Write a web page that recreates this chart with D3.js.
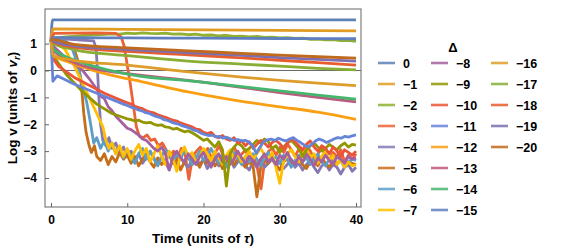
<!DOCTYPE html>
<html>
<head>
<meta charset="utf-8">
<script src="https://cdn.jsdelivr.net/npm/d3@7"></script>
<style>
  body { margin: 0; background: #fff; }
  svg { font-family: "Liberation Sans", Arial, sans-serif; font-weight: bold; }
</style>
</head>
<body>
<svg id="chart" width="572" height="251"></svg>
<script>
var w = 572, h = 251;

// legend entries (detuning values) and colours
var deltas = [0, -1, -2, -3, -4, -5, -6, -7, -8, -9, -10, -11, -12, -13, -14, -15, -16, -17, -18, -19, -20];
var colors = ["#5E81B5", "#E19C24", "#8FB032", "#EB6235", "#8778B3", "#C56E1A", "#5D9EC7", "#FFBF00",
  "#A5609D", "#929600", "#E95536", "#6685D9", "#F89F13", "#BC5B80", "#47B66D", "#5F7FBE",
  "#DE9C2A", "#89AE36", "#E85D2C", "#7D6FB0", "#BF6A1C"];

var xTicks = [0, 10, 20, 30, 40];
var yTicks = [1, 0, -1, -2, -3, -4];

// smooth series: [time, log v]
var d0 = [[0, 1.15], [0.2, 1.88], [10, 1.88], [20, 1.88], [30, 1.88], [40, 1.88]];
var d1 = [[0, 1.15], [0.3, 1.55], [10, 1.53], [20, 1.51], [30, 1.49], [40, 1.47]];
var d2 = [[0, 1.15], [0.3, 1.2], [2, 1.25], [4, 1.3], [6, 1.33], [8, 1.36], [9, 1.35], [10, 1.39], [11, 1.37],
  [12, 1.4], [13, 1.38], [14, 1.37], [15, 1.39], [16, 1.35], [17, 1.36], [18, 1.33], [19, 1.35], [20, 1.31],
  [21, 1.32], [22, 1.29], [23, 1.31], [24, 1.27], [25, 1.28], [26, 1.25], [27, 1.27], [28, 1.23], [29, 1.24],
  [30, 1.21], [31, 1.22], [32, 1.19], [33, 1.2], [34, 1.16], [35, 1.17], [36, 1.14], [37, 1.15], [38, 1.11],
  [39, 1.12], [40, 1.08]];
var d12 = [[0, 1.15], [0.3, 0.55], [2, 0.35], [5, 0.05], [8, -0.18], [12, -0.42], [18, -0.8], [25, -1.15], [30, -1.35], [35, -1.55], [40, -1.82]];
var d13 = [[0, 1.15], [0.3, 0.75], [3, 0.3], [6, 0.05], [10, -0.12], [18, -0.37], [25, -0.63], [30, -0.82], [35, -1.0], [40, -1.17]];
var d14 = [[0, 1.15], [0.3, 0.8], [3, 0.4], [6.5, 0.09], [10.8, -0.17], [19.5, -0.42], [25, -0.6], [30, -0.76], [35, -0.92], [40, -1.07]];
var d15 = [[0, 1.15], [0.3, 1.22], [10, 1.21], [20, 1.2], [30, 1.19], [40, 1.18]];
var d16 = [[0, 1.15], [0.3, 0.55], [3, 0.38], [10, 0.2], [18, -0.05], [25, -0.25], [30, -0.37], [35, -0.47], [40, -0.56]];
var d17 = [[0, 1.15], [0.3, 1.0], [3, 0.78], [10, 0.55], [18, 0.35], [25, 0.24], [30, 0.16], [35, 0.08], [40, 0.02]];
var d18 = [[0, 1.15], [0.3, 1.05], [3, 0.87], [10, 0.71], [18, 0.58], [25, 0.47], [30, 0.38], [35, 0.29], [40, 0.2]];
var d19 = [[0, 1.15], [0.3, 1.1], [3, 0.92], [10, 0.78], [18, 0.66], [25, 0.56], [30, 0.48], [35, 0.41], [40, 0.35]];
var d20 = [[0, 1.15], [0.3, 1.15], [3, 0.97], [10, 0.84], [18, 0.73], [25, 0.64], [30, 0.57], [35, 0.51], [40, 0.46]];

// noisy series: head as [time, log v], tail sampled evenly from the last head time onward to t = 40
var h3 = [[0, 1.15], [0.4, 1.38], [3, 1.39], [6, 1.4], [8.5, 1.38], [9.2, 1.25], [9.6, 0.9], [10, 0.2], [10.4, -0.5], [10.8, -1.3], [11.2, -2.1], [11.6, -2.45]];
var n3 = [-2.5, -2.4, -2.6, -2.55, -2.8, -2.7, -2.95, -3.2, -3.0, -3.35, -2.9, -3.1, -4.05, -3.2, -3.0, -2.85, -3.1, -2.9, -3.3, -3.05,
  -2.8, -3.15, -3.4, -3.0, -2.85, -3.25, -3.1, -2.95, -3.45, -3.2, -3.6, -4.4, -3.3, -3.0, -2.9, -3.15, -2.85, -3.05, -2.75, -2.95,
  -3.2, -2.9, -3.1, -2.8, -3.0, -3.3, -3.1, -2.9, -3.15, -3.35, -3.05, -3.2, -2.95, -3.4, -3.15, -3.3, -3.1];
var h4 = [[0, 1.15], [0.5, 1.2], [3, 1.15], [5.6, 1.1], [5.9, 0.85], [6.1, 0.0], [6.3, -1.1], [6.5, -2.0], [6.8, -2.6], [7.2, -2.8],
  [7.6, -2.5], [8, -2.9], [8.5, -2.7], [9, -3.1], [9.5, -2.85]];
var n4 = [-3.2, -3.0, -3.35, -3.1, -3.45, -3.25, -3.0, -3.3, -3.5, -3.2, -3.4, -3.7, -3.3, -3.5, -3.25, -3.45, -3.6, -3.35, -3.2, -3.5,
  -3.3, -3.65, -3.4, -3.2, -3.55, -3.35, -3.5, -3.25, -3.6, -3.4, -3.3, -3.55, -3.7, -3.4, -3.5, -3.3, -3.6, -3.45, -3.3, -3.55,
  -3.4, -3.65, -3.5, -3.3, -3.6, -3.45, -3.7, -3.5, -3.35, -3.6, -3.8, -3.55, -3.45, -3.7, -3.5, -3.6, -3.85, -3.6, -3.5, -3.75, -3.6];
var h5 = [[0, 1.15], [1, 1.1], [2, 1.05], [3, 0.85], [3.6, 0.3], [4, -0.6], [4.3, -1.6], [4.6, -2.3], [5, -2.8], [5.3, -3.05],
  [5.7, -2.8], [6, -3.2], [6.5, -3.35], [7, -3.1], [7.5, -3.5], [8, -3.2], [8.5, -3.4], [9, -3.05], [9.5, -3.3]];
var n5 = [-3.15, -3.45, -3.2, -3.55, -3.3, -3.1, -3.4, -3.6, -3.25, -3.5, -3.35, -3.15, -3.45, -3.3, -3.7, -3.4, -3.2, -3.5, -3.35, -3.6,
  -3.3, -3.45, -3.2, -3.55, -3.35, -3.65, -3.4, -3.25, -3.5, -3.3, -3.45, -3.6, -3.35, -3.55, -4.7, -3.6, -3.3, -3.45, -3.25, -3.5,
  -3.7, -3.4, -3.3, -3.55, -3.35, -3.2, -3.5, -3.65, -3.4, -3.3, -3.55, -3.25, -3.45, -3.6, -3.35, -3.5, -3.3, -3.55, -3.4, -3.45, -3.5];
var h6 = [[0, 1.15], [1, 1.12], [2, 1.08], [2.8, 0.8], [3.4, 0.3], [4, -0.4], [4.7, -1.2], [5.2, -2.0], [5.6, -2.7], [6, -2.5],
  [6.5, -2.9], [7, -2.6], [7.5, -3.0], [8, -2.7], [8.5, -3.1], [9, -2.85], [9.5, -3.25]];
var n6 = [-2.95, -3.2, -3.45, -3.1, -2.9, -3.3, -3.0, -3.25, -3.55, -3.2, -2.95, -3.15, -3.4, -3.1, -3.3, -2.95, -3.2, -3.5, -3.25, -3.0,
  -3.35, -3.15, -2.9, -3.2, -3.45, -3.15, -3.6, -3.3, -3.05, -3.25, -3.5, -3.2, -3.4, -3.1, -3.3, -3.55, -3.25, -3.05, -3.35, -3.2,
  -3.45, -3.15, -3.3, -3.6, -3.35, -3.15, -3.4, -3.25, -3.5, -3.3, -3.1, -3.4, -3.55, -3.3, -3.45, -3.2, -3.35, -3.6, -3.4, -3.3, -3.35];
var h7 = [[0, 1.15], [0.3, 1.0], [1, 0.95], [1.8, 0.8], [3, 0.2], [4, -0.4], [5, -1.0], [6, -1.6], [6.8, -2.1], [7.2, -2.6],
  [7.6, -2.9], [8, -2.7], [8.5, -3.1], [9, -2.8], [9.5, -3.2]];
var n7 = [-2.9, -3.3, -3.0, -2.75, -3.15, -2.9, -3.4, -3.1, -2.8, -3.2, -3.5, -3.0, -3.3, -3.75, -3.1, -2.85, -3.2, -3.05, -3.45, -3.2,
  -2.9, -3.1, -3.35, -3.0, -3.25, -3.5, -3.15, -2.95, -3.3, -3.1, -3.4, -3.2, -3.0, -3.3, -3.1, -2.9, -3.15, -3.35, -3.05, -3.6,
  -4.2, -3.4, -3.1, -2.95, -3.2, -3.4, -3.1, -2.9, -3.25, -3.1, -3.45, -3.2, -3.0, -3.35, -3.15, -3.5, -3.3, -3.6, -3.4, -3.55, -3.5];
var h8 = [[0, 1.15], [0.3, 0.9], [2, 0.45], [4, 0.05], [5, -0.3], [6, -0.7], [6.5, -0.95], [7, -1.05], [7.5, -1.35], [8, -1.5],
  [8.5, -1.7], [9, -1.85], [9.5, -2.0]];
var n8 = [-2.15, -2.2, -2.3, -2.4, -2.55, -2.6, -2.75, -2.9, -3.0, -2.85, -3.1, -3.7, -3.2, -3.0, -3.25, -3.4, -3.1, -3.3, -3.5, -3.2,
  -3.05, -3.35, -3.6, -3.3, -3.1, -3.4, -3.2, -3.5, -3.3, -3.0, -3.25, -3.45, -3.2, -3.35, -3.6, -3.3, -3.1, -3.4, -3.25, -3.5,
  -3.15, -3.3, -3.05, -3.35, -3.5, -3.2, -3.4, -3.1, -3.3, -3.55, -3.25, -3.4, -3.15, -3.35, -3.5, -3.2, -3.3, -3.45, -3.2, -3.3, -3.25];
var h9 = [[0, 1.15], [0.3, 0.55], [2, -0.15], [4, -0.75], [6, -1.25], [8, -1.6], [9.5, -1.75]];
var n9 = [-1.8, -1.83, -1.88, -1.85, -1.92, -1.95, -1.93, -2.0, -2.04, -2.02, -2.1, -2.12, -2.18, -2.15, -2.22, -2.28, -2.25, -2.32, -2.4, -2.5,
  -2.6, -2.55, -2.7, -2.85, -2.65, -2.95, -4.3, -3.1, -2.85, -2.7, -2.8, -3.0, -2.9, -2.75, -2.6, -2.7, -2.55, -2.65, -2.9, -2.8,
  -3.05, -2.85, -2.7, -2.6, -2.75, -2.9, -3.2, -2.95, -2.8, -2.7, -2.85, -3.0, -2.9, -2.75, -2.85, -2.95, -2.8, -2.7, -2.85, -2.75, -2.78];
var h10 = [[0, 1.15], [0.25, 0.45], [1, 0.15], [3, -0.25], [5, -0.55], [7, -0.85], [9.5, -1.15]];
var n10 = [-1.2, -1.25, -1.33, -1.38, -1.42, -1.5, -1.55, -1.58, -1.65, -1.7, -1.74, -1.8, -1.85, -1.88, -1.95, -2.0, -2.05, -2.1, -2.18, -2.2,
  -2.3, -2.35, -2.3, -2.45, -2.5, -2.42, -2.55, -2.6, -2.5, -2.7, -2.62, -2.8, -2.65, -2.9, -2.75, -2.6, -2.7, -2.85, -2.68, -2.6,
  -2.72, -2.9, -2.7, -2.55, -2.65, -2.8, -2.95, -2.75, -2.62, -2.85, -3.0, -2.8, -2.9, -3.1, -2.85, -3.0, -3.2, -2.95, -3.05, -3.15, -3.0];
var h11 = [[0, 1.15], [0.25, -0.4], [0.8, -0.2], [3, -0.5], [6, -0.85], [9.5, -1.25]];
var n11 = [-1.3, -1.36, -1.4, -1.47, -1.5, -1.57, -1.6, -1.66, -1.72, -1.75, -1.83, -1.86, -1.92, -1.97, -2.0, -2.06, -2.1,
  -2.15, -2.22, -2.25, -2.33, -2.38, -2.42, -2.4, -2.47, -2.45, -2.52, -2.48, -2.55, -2.6, -2.57, -2.62, -2.6, -2.66, -2.8, -3.08,
  -2.85, -2.65, -2.58, -2.55, -2.6, -2.52, -2.58, -2.62, -2.55, -2.5, -2.6, -2.68, -2.78, -2.85, -2.75, -2.62, -2.55, -2.6, -2.68,
  -2.62, -2.55, -2.5, -2.52, -2.45, -2.48, -2.43, -2.4];

function withTail(head, tail) {
  var t0 = head[head.length - 1][0];
  var step = (40 - t0) / tail.length;
  return head.concat(tail.map(function (v, i) { return [t0 + (i + 1) * step, v]; }));
}

var series = [
  { d: 0, pts: d0, smooth: true }, { d: -1, pts: d1, smooth: true }, { d: -2, pts: d2, smooth: false },
  { d: -3, pts: withTail(h3, n3) }, { d: -4, pts: withTail(h4, n4) }, { d: -5, pts: withTail(h5, n5) },
  { d: -6, pts: withTail(h6, n6) }, { d: -7, pts: withTail(h7, n7) }, { d: -8, pts: withTail(h8, n8) },
  { d: -9, pts: withTail(h9, n9) }, { d: -10, pts: withTail(h10, n10) }, { d: -11, pts: withTail(h11, n11) },
  { d: -12, pts: d12, smooth: true }, { d: -13, pts: d13, smooth: true }, { d: -14, pts: d14, smooth: true },
  { d: -15, pts: d15, smooth: true }, { d: -16, pts: d16, smooth: true }, { d: -17, pts: d17, smooth: true },
  { d: -18, pts: d18, smooth: true }, { d: -19, pts: d19, smooth: true }, { d: -20, pts: d20, smooth: true }
];

var frame = { left: 45, right: 361, top: 9, bottom: 207 };
var xScale = d3.scaleLinear().domain([0, 40]).range([51, 356]);
var yScale = d3.scaleLinear().domain([1, -4]).range([43.6, 178]);
var color = d3.scaleOrdinal().domain(deltas).range(colors);

var svg = d3.select("#chart");

svg.append("clipPath").attr("id", "plotclip")
  .append("rect")
  .attr("x", frame.left).attr("y", frame.top)
  .attr("width", frame.right - frame.left).attr("height", frame.bottom - frame.top);

// zero line
svg.append("line")
  .attr("x1", frame.left).attr("x2", frame.right)
  .attr("y1", yScale(0)).attr("y2", yScale(0))
  .attr("stroke", "#666").attr("stroke-width", 1);

var lineSharp = d3.line().x(function (d) { return xScale(d[0]); }).y(function (d) { return yScale(d[1]); });
var lineSmooth = d3.line().curve(d3.curveMonotoneX).x(function (d) { return xScale(d[0]); }).y(function (d) { return yScale(d[1]); });

svg.append("g").attr("clip-path", "url(#plotclip)")
  .selectAll("path")
  .data(series)
  .join("path")
  .attr("d", function (s) { return s.smooth ? lineSmooth(s.pts) : lineSharp(s.pts); })
  .attr("fill", "none")
  .attr("stroke", function (s) { return color(s.d); })
  .attr("stroke-width", 2.8)
  .attr("stroke-linejoin", "round");

// frame
svg.append("rect")
  .attr("x", frame.left).attr("y", frame.top)
  .attr("width", frame.right - frame.left).attr("height", frame.bottom - frame.top)
  .attr("fill", "none").attr("stroke", "#666").attr("stroke-width", 1);

// axes (ticks inward)
var xAxis = d3.axisBottom(xScale).tickValues(xTicks).tickSize(-4).tickPadding(8).tickFormat(d3.format("d"));
var yAxis = d3.axisLeft(yScale).tickValues(yTicks).tickSize(-4).tickPadding(8)
  .tickFormat(function (d) { return d < 0 ? "\u2212" + Math.abs(d) : d; });

var gx = svg.append("g").attr("transform", "translate(0," + frame.bottom + ")").call(xAxis);
var gy = svg.append("g").attr("transform", "translate(" + frame.left + ",0)").call(yAxis);
[gx, gy].forEach(function (g) {
  g.select(".domain").remove();
  g.selectAll(".tick line").attr("stroke", "#666");
  g.selectAll(".tick text").attr("fill", "#000").style("font-size", "12px")
    .style("font-family", "'Liberation Sans', Arial, sans-serif").style("font-weight", "bold");
});

// axis labels
var xl = svg.append("text").attr("x", 203).attr("y", 243).attr("text-anchor", "middle")
  .style("font-size", "13.5px");
xl.append("tspan").text("Time (units of ");
xl.append("tspan").style("font-style", "italic").text("\u03C4");
xl.append("tspan").text(")");

var yl = svg.append("text").attr("transform", "translate(17,108) rotate(-90)").attr("text-anchor", "middle")
  .style("font-size", "13.5px");
yl.append("tspan").text("Log v (units of ");
yl.append("tspan").style("font-style", "italic").text("v");
yl.append("tspan").style("font-style", "italic").style("font-size", "9.5px").attr("dy", 3).text("r");
yl.append("tspan").attr("dy", -3).text(")");

// legend
var legend = svg.append("g");
legend.append("text").attr("x", 453).attr("y", 52).attr("text-anchor", "middle")
  .style("font-size", "13px").text("\u0394");

var colX = [378, 431, 491];
var items = legend.selectAll("g.item")
  .data(deltas)
  .join("g")
  .attr("class", "item")
  .attr("transform", function (d, i) {
    return "translate(" + colX[Math.floor(i / 8)] + "," + (63 + (i % 8) * 21) + ")";
  });
items.append("line")
  .attr("x1", 0).attr("x2", 17).attr("y1", 0).attr("y2", 0)
  .attr("stroke", function (d) { return color(d); })
  .attr("stroke-width", 2.6).attr("stroke-opacity", 0.85);
items.append("text")
  .attr("x", 25).attr("y", 4.5)
  .style("font-size", "12.5px")
  .text(function (d) { return d < 0 ? "\u2212" + Math.abs(d) : d; });
</script>
</body>
</html>
